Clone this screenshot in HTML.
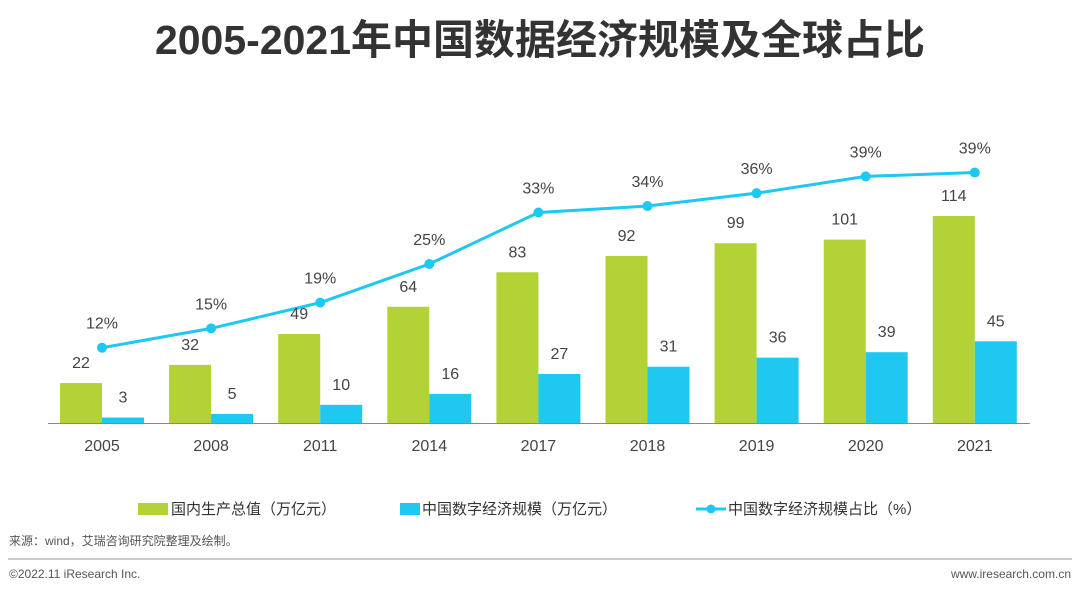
<!DOCTYPE html>
<html><head><meta charset="utf-8"><style>
body{margin:0;background:#fff;}
svg{display:block;font-family:"Liberation Sans","Noto Sans CJK SC",sans-serif;}
</style></head><body>
<svg id="chart" width="1080" height="593">
<text x="540" y="54" text-anchor="middle" font-size="41" font-weight="bold" fill="#333">2005-2021年中国数据经济规模及全球占比</text>
<line x1="48" y1="423.5" x2="1030" y2="423.5" stroke="#888" stroke-width="1"/>
<g id="bars"></g><g id="line"></g><g id="labels"></g>
<g>
<rect x="138" y="503" width="30" height="12" fill="#b2d235"/>
<text x="171" y="514" font-size="15" fill="#333">国内生产总值（万亿元）</text>
<rect x="400" y="503" width="20" height="12" fill="#1ec8f0"/>
<text x="422" y="514" font-size="15" fill="#333">中国数字经济规模（万亿元）</text>
<line x1="696" y1="509" x2="726" y2="509" stroke="#1ec8f0" stroke-width="3"/>
<circle cx="711" cy="509" r="4.5" fill="#1ec8f0"/>
<text x="728" y="514" font-size="15" fill="#333">中国数字经济规模占比（%）</text>
</g>
<text x="9" y="545" font-size="12" fill="#555">来源：wind，艾瑞咨询研究院整理及绘制。</text>
<line x1="8" y1="559" x2="1072" y2="559" stroke="#bbb" stroke-width="1.5"/>
<text x="9" y="578" font-size="12" fill="#555">©2022.11 iResearch Inc.</text>
<text x="1071" y="578" font-size="12" fill="#555" text-anchor="end">www.iresearch.com.cn</text>
</svg>
<script>
const categories=["2005","2008","2011","2014","2017","2018","2019","2020","2021"];
const gdp=[22,32,49,64,83,92,99,101,114];
const digital=[3,5,10,16,27,31,36,39,45];
const share=[12,15,19,25,33,34,36,38.6,39.2];
const shareLabels=["12%","15%","19%","25%","33%","34%","36%","39%","39%"];
const NS="http://www.w3.org/2000/svg";
const x=i=>102+i*109.1;
const yBar=v=>423-v*1.816;
const yLine=p=>425-p*6.44;
function mk(t,a,p,txt){const e=document.createElementNS(NS,t);for(const k in a)e.setAttribute(k,a[k]);if(txt!==undefined)e.textContent=txt;p.appendChild(e);return e;}
const bars=document.getElementById('bars'),line=document.getElementById('line'),labels=document.getElementById('labels');
categories.forEach((c,i)=>{
 let g=mk('rect',{x:x(i)-42,y:yBar(gdp[i]),width:42,height:gdp[i]*1.816,fill:'#b2d235'},bars);
 
 
 let b=mk('rect',{x:x(i),y:yBar(digital[i]),width:42,height:digital[i]*1.816,fill:'#1ec8f0'},bars);
 
 
 let t1=mk('text',{x:x(i)-21,y:yBar(gdp[i])-15,'text-anchor':'middle','font-size':16,fill:'#444'},labels,String(gdp[i]));
 
 
 let t2=mk('text',{x:x(i)+21,y:yBar(digital[i])-15,'text-anchor':'middle','font-size':16,fill:'#444'},labels,String(digital[i]));
 
 
 let tx=mk('text',{x:x(i),y:451,'text-anchor':'middle','font-size':16,fill:'#444'},labels,c);
 
 
 let ts=mk('text',{x:x(i),y:yLine(share[i])-19,'text-anchor':'middle','font-size':16,fill:'#444'},labels,shareLabels[i]);
 
 
});
let pl=mk('polyline',{points:share.map((p,i)=>x(i)+','+yLine(p)).join(' '),fill:'none',stroke:'#1ec8f0','stroke-width':3},line);


share.forEach((p,i)=>{
 let d=mk('circle',{cx:x(i),cy:yLine(p),r:5,fill:'#1ec8f0'},line);
 
 
});
</script>
</body></html>
